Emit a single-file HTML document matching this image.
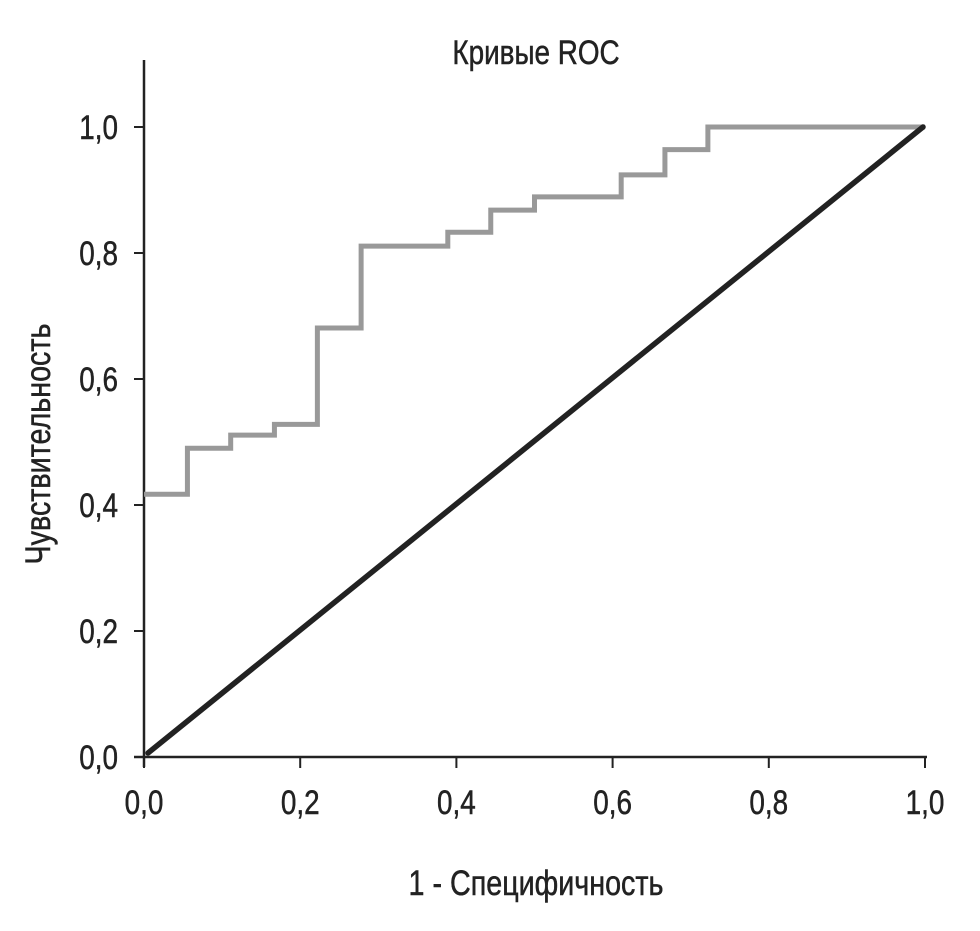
<!DOCTYPE html>
<html><head><meta charset="utf-8"><style>
html,body{margin:0;padding:0;background:#fff;}
svg text{font-family:"Liberation Sans",sans-serif;fill:#222;stroke:#222;stroke-width:0.5;}
</style></head><body>
<svg id="chart" width="980" height="926" xmlns="http://www.w3.org/2000/svg">
<text x="0" y="0" font-size="34" text-anchor="middle" transform="translate(536,64) scale(0.82,1)">Кривые ROC</text>
<g id="axes"></g>
<g id="marks"></g>
<text x="0" y="0" font-size="35" text-anchor="middle" transform="translate(536,895) scale(0.82,1)">1 - Специфичность</text>
<text x="0" y="0" font-size="35" text-anchor="middle" transform="translate(50,444) rotate(-90) scale(0.82,1)">Чувствительность</text>
</svg>
<script>
const xTicks=[0,0.2,0.4,0.6,0.8,1.0];
const yTicks=[0,0.2,0.4,0.6,0.8,1.0];
const tickLabels=["0,0","0,2","0,4","0,6","0,8","1,0"];
const rocFpr=[0,0.0556,0.0556,0.111,0.111,0.167,0.167,0.222,0.222,0.278,0.278,0.389,0.389,0.444,0.444,0.5,0.5,0.611,0.611,0.667,0.667,0.722,0.722,1.0];
const rocTpr=[0.417,0.417,0.49,0.49,0.511,0.511,0.528,0.528,0.681,0.681,0.811,0.811,0.833,0.833,0.868,0.868,0.889,0.889,0.924,0.924,0.964,0.964,1.0,1.0];
const refX=[0,1];const refY=[0,1];
const X=v=>144+v*781, Y=v=>757-v*630;
const NS="http://www.w3.org/2000/svg";
const axes=document.getElementById('axes'),marks=document.getElementById('marks');
function mk(tag,at,parent){const e=document.createElementNS(NS,tag);for(const k in at)e.setAttribute(k,at[k]);parent.appendChild(e);return e;}
let l=mk('line',{x1:144,y1:60,x2:144,y2:767,stroke:'#222','stroke-width':2.5},axes);


l=mk('line',{x1:134,y1:757,x2:927,y2:757,stroke:'#222','stroke-width':2.5},axes);


xTicks.forEach((v,i)=>{
 const t=mk('line',{x1:X(v),y1:757,x2:X(v),y2:768,stroke:'#222','stroke-width':2},axes);
 
 
 const tx=mk('text',{x:0,y:0,'font-size':34,'text-anchor':'middle',transform:`translate(${X(v)},814) scale(0.82,1)`},axes);
 tx.textContent=tickLabels[i];
 
 
});
yTicks.forEach((v,i)=>{
 const t=mk('line',{x1:134,y1:Y(v),x2:144,y2:Y(v),stroke:'#222','stroke-width':2},axes);
 
 
 const tx=mk('text',{x:0,y:0,'font-size':34,'text-anchor':'end',transform:`translate(118,${Y(v)+12}) scale(0.82,1)`},axes);
 tx.textContent=tickLabels[i];
 
 
});
let p=mk('polyline',{points:rocFpr.map((v,i)=>X(v)+','+Y(rocTpr[i])).join(' '),fill:'none',stroke:'#999','stroke-width':5},marks);


p=mk('polyline',{points:refX.map((v,i)=>(X(v)+4-6*refX[i])+','+(Y(refY[i])-4*(1-refY[i]))).join(' '),fill:'none',stroke:'#222','stroke-width':5.5,'stroke-linecap':'round'},marks);


</script>
</body></html>
